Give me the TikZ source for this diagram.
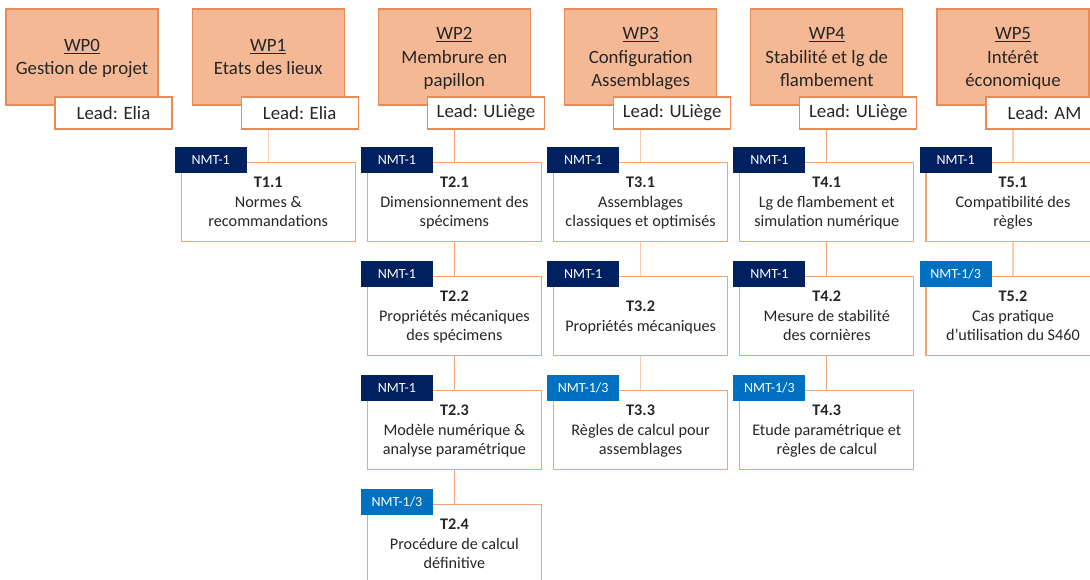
\documentclass[tikz,border=0pt]{standalone}
\usepackage{fontspec}
\setmainfont{Carlito}
\usetikzlibrary{positioning}
\definecolor{wpfill}{RGB}{244,185,148}
\definecolor{wpedge}{RGB}{230,140,90}
\definecolor{taskedge}{RGB}{241,163,115}
\definecolor{linkdark}{RGB}{240,165,120}
\definecolor{linklight}{RGB}{248,205,178}
\definecolor{nmtnavy}{RGB}{0,32,96}
\definecolor{nmtblue}{RGB}{0,112,192}
\colorlet{txtgray}{black!85}

\begin{document}
\begin{tikzpicture}[x=1pt,y=-1pt,
		every node/.style={
			text=txtgray,
			inner sep=0pt,
			align=center
		},
		wpbox/.style={draw=wpedge, fill=wpfill, line width=1.3pt, minimum width=152pt, minimum height=96pt, text depth=0pt, font=\fontsize{18.8}{23.3}\selectfont},
		leadbox/.style={draw=wpedge, fill=white, line width=1.3pt, minimum width=117pt, minimum height=32pt, font=\fontsize{18.8}{23}\selectfont},
		taskbox/.style={draw=taskedge, fill=white, line width=1.3pt, minimum width=174pt, minimum height=79pt, text depth=0pt, font=\fontsize{16.2}{19.6}\selectfont},
		nmttag/.style={fill=#1, text=white, minimum width=72pt, minimum height=26pt, font=\fontsize{14}{17}\selectfont},
		link/.style={draw=#1, line width=1.3pt}
	]

	\useasboundingbox (0,0) rectangle (1090,580);
	\clip (0,0) rectangle (1090,580);

	\def\colgap{186.2}

	% work packages
	\foreach \c/\title/\lead in {0/{Gestion de projet}/Elia, 1/{Etats des lieux}/Elia, 2/{Membrure en\\papillon}/ULiège, 3/{Configuration\\Assemblages}/ULiège, 4/{Stabilité et lg de\\flambement}/ULiège, 5/{Intérêt\\économique}/AM}{
		\node[wpbox] (wp\c) at (82+\c*\colgap, 57) {\underline{WP\c}\\\title};
		\node[leadbox] (lead\c) at (113.5+\c*\colgap, 113) {Lead: \lead};
	}

	% tasks
	\foreach \c/\r/\tagc/\tag/\txt in {
			1/1/nmtnavy/NMT-1/{Normes \&\\recommandations},
			2/1/nmtnavy/NMT-1/{Dimensionnement des\\spécimens},
			2/2/nmtnavy/NMT-1/{Propriétés mécaniques\\des spécimens},
			2/3/nmtnavy/NMT-1/{Modèle numérique \&\\analyse paramétrique},
			2/4/nmtblue/{NMT-1/3}/{Procédure de calcul\\définitive},
			3/1/nmtnavy/NMT-1/{Assemblages\\classiques et optimisés},
			3/2/nmtnavy/NMT-1/{Propriétés mécaniques},
			3/3/nmtblue/{NMT-1/3}/{Règles de calcul pour\\assemblages},
			4/1/nmtnavy/NMT-1/{Lg de flambement et\\simulation numérique},
			4/2/nmtnavy/NMT-1/{Mesure de stabilité\\des cornières},
			4/3/nmtblue/{NMT-1/3}/{Etude paramétrique et\\règles de calcul},
			5/1/nmtnavy/NMT-1/{Compatibilité des\\règles},
			5/2/nmtblue/{NMT-1/3}/{Cas pratique\\d’utilisation du S460}}{
		\node[taskbox] (t\c\r) at (82+\c*\colgap, 202+\r*114-114) {\textbf{T\c.\r}\\\txt};
		\node[nmttag=\tagc, anchor=south west, xshift=-6pt, yshift=-11pt] (tag\c\r) at (t\c\r.north west) {\tag};
	}

	% connectors
	\foreach \c/\lc in {1/linklight, 2/linkdark, 3/linklight, 4/linkdark, 5/linklight}
		\draw[link=\lc] (lead\c.south -| wp\c.south) -- (t\c1.north);
	\foreach \c/\r/\s/\lc in {2/1/2/linkdark, 2/2/3/linkdark, 2/3/4/linkdark, 3/1/2/linklight, 3/2/3/linklight, 4/1/2/linkdark, 4/2/3/linkdark, 5/1/2/linklight}
		\draw[link=\lc] (t\c\r) -- (t\c\s);

\end{tikzpicture}
\end{document}
